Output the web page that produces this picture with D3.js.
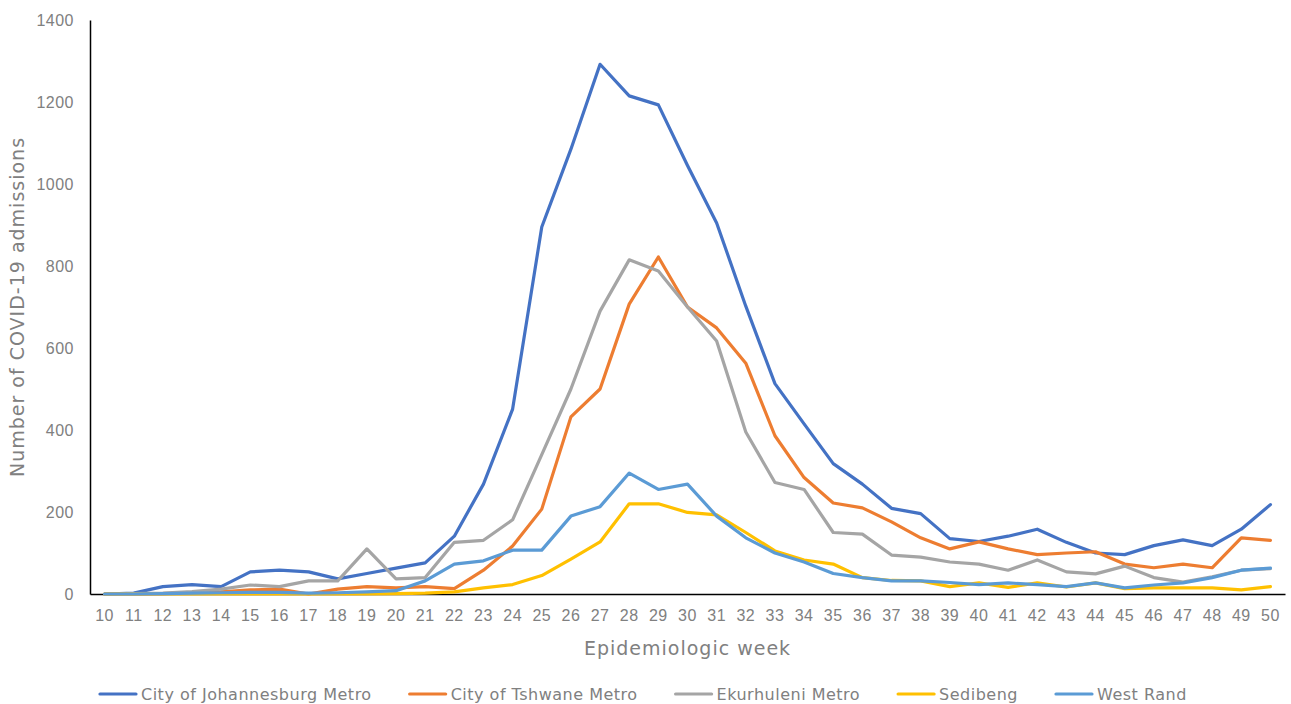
<!DOCTYPE html>
<html>
<head>
<meta charset="utf-8">
<script src="https://cdn.jsdelivr.net/npm/d3@7"></script>
<style>
  body { margin: 0; background: #fff; }
  svg { display: block; font-family: "DejaVu Sans", sans-serif; }
  .tick text { fill: #808080; }
</style>
</head>
<body>
<div class="line-chart"></div>
<script>
// epidemiologic weeks 10..50
const weeks = ["10","11","12","13","14","15","16","17","18","19","20","21","22","23","24","25","26","27","28","29","30",
  "31","32","33","34","35","36","37","38","39","40","41","42","43","44","45","46","47","48","49","50"]

const johannesburg = [0, 2, 18, 23, 18, 54, 58, 54, 37, 50, 63, 76, 141, 268, 451, 895, 1085, 1292, 1215, 1193, 1045,
  905, 702, 513, 415, 318, 268, 209, 196, 135, 128, 141, 158, 126, 100, 96, 118, 132, 118, 158, 218]
const tshwane = [0, 0, 1, 3, 5, 10, 12, 0, 12, 18, 15, 18, 13, 58, 117, 207, 432, 500, 707, 822, 700,
  649, 563, 386, 284, 222, 210, 176, 137, 110, 127, 110, 96, 100, 103, 73, 64, 73, 64, 137, 131]
const ekurhuleni = [0, 1, 2, 6, 12, 22, 18, 32, 32, 110, 37, 40, 126, 131, 181, 340, 500, 690, 815, 788, 700,
  617, 395, 272, 255, 150, 146, 95, 90, 78, 73, 58, 83, 54, 49, 68, 40, 29, 42, 58, 62]
const sedibeng = [0, 0, 0, 0, 0, 0, 0, 0, 0, 0, 1, 2, 5, 15, 23, 45, 85, 127, 220, 220, 199,
  193, 150, 105, 83, 73, 40, 33, 32, 18, 27, 16, 27, 17, 27, 13, 15, 15, 15, 10, 18]
const westRand = [0, 0, 1, 2, 3, 4, 4, 2, 3, 5, 8, 32, 73, 81, 107, 107, 190, 213, 295, 255, 268,
  190, 137, 100, 78, 50, 40, 32, 32, 28, 23, 27, 23, 18, 27, 15, 22, 27, 40, 58, 63]

const seriesNames = ["City of Johannesburg Metro", "City of Tshwane Metro", "Ekurhuleni Metro", "Sedibeng", "West Rand"]
const seriesValues = [johannesburg, tshwane, ekurhuleni, sedibeng, westRand]
const seriesColors = ["#4472C4", "#ED7D31", "#A5A5A5", "#FFC000", "#5B9BD5"]

const yTicks = [0, 200, 400, 600, 800, 1000, 1200, 1400]

function generateLineChart() {
  const width = 1291
  const height = 704
  const margin = { top: 20, right: 6, bottom: 110, left: 90 }

  const svg = d3.select(".line-chart").append("svg")
    .attr("width", width)
    .attr("height", height)

  const x = d3.scaleBand()
    .domain(weeks)
    .range([margin.left, width - margin.right])

  const y = d3.scaleLinear()
    .domain([0, 1400])
    .range([height - margin.bottom, margin.top])

  // x axis
  const xAxis = svg.append("g")
    .attr("transform", "translate(0," + y(0) + ")")
    .call(d3.axisBottom(x).tickSize(0).tickPadding(16))
  xAxis.select(".domain").attr("stroke", "#000").attr("stroke-width", 1.5)
  xAxis.selectAll("text").attr("font-size", 16).attr("letter-spacing", 0.5)

  // y axis
  const yAxis = svg.append("g")
    .attr("transform", "translate(" + margin.left + ",0)")
    .call(d3.axisLeft(y).tickValues(yTicks).tickFormat(d3.format("d")).tickSize(0).tickPadding(16))
  yAxis.select(".domain").attr("stroke", "#000").attr("stroke-width", 1.5)
  yAxis.selectAll("text").attr("font-size", 16).attr("letter-spacing", 0.5)

  const line = d3.line()
    .x((d, i) => x(weeks[i]) + x.bandwidth() / 2)
    .y(d => y(d))

  svg.append("g")
    .selectAll("path")
    .data(seriesValues)
    .enter().append("path")
    .attr("fill", "none")
    .attr("stroke", (d, i) => seriesColors[i])
    .attr("stroke-width", 3.2)
    .attr("stroke-linejoin", "round")
    .attr("stroke-linecap", "round")
    .attr("d", line)

  // axis titles
  svg.append("text")
    .attr("x", (margin.left + width - margin.right) / 2)
    .attr("y", 655)
    .attr("text-anchor", "middle")
    .attr("font-size", 19)
    .attr("letter-spacing", 1)
    .attr("fill", "#808080")
    .text("Epidemiologic week")

  svg.append("text")
    .attr("transform", "translate(24," + (margin.top + height - margin.bottom) / 2 + ") rotate(-90)")
    .attr("text-anchor", "middle")
    .attr("font-size", 19)
    .attr("letter-spacing", 1)
    .attr("fill", "#808080")
    .text("Number of COVID-19 admissions")

  // legend
  const legend = svg.append("g").attr("transform", "translate(0,694)")
  let lx = 100
  seriesNames.forEach((name, i) => {
    const item = legend.append("g").attr("transform", "translate(" + lx + ",0)")
    item.append("line")
      .attr("x1", 0).attr("x2", 36)
      .attr("stroke", seriesColors[i])
      .attr("stroke-width", 3.2)
      .attr("stroke-linecap", "round")
    const t = item.append("text")
      .attr("x", 41)
      .attr("dy", "0.35em")
      .attr("font-size", 16)
      .attr("letter-spacing", 0.5)
      .attr("fill", "#808080")
      .text(name)
    lx += 41 + t.node().getComputedTextLength() + 38
  })
}

generateLineChart()
</script>
</body>
</html>
